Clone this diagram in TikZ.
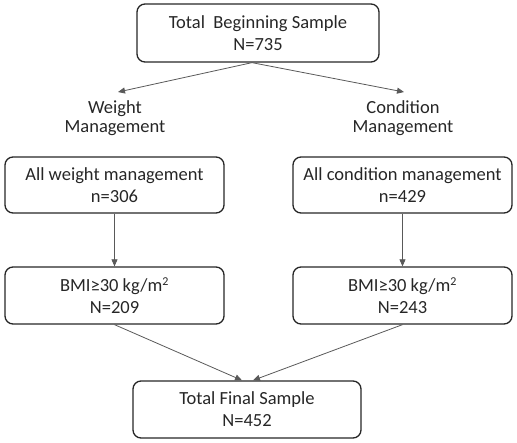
\documentclass[tikz,border=0pt]{standalone}
\usepackage{fontspec}
\setmainfont{Carlito}
\usetikzlibrary{arrows.meta,calc}

\tikzset{
    flowbox/.style={draw=black!85, line width=1.3pt, rounded corners=8pt, align=center,
        minimum width=219pt, minimum height=56pt, inner sep=0pt,
        font=\fontsize{18.5}{22}\selectfont, text=black!85},
    branch/.style={align=center, inner sep=0pt, font=\fontsize{18.5}{19.5}\selectfont, text=black!85},
    link/.style={draw=black!65, line width=0.8pt, -{Triangle[length=7pt,width=6pt]}}
}

\begin{document}
\begin{tikzpicture}[x=1pt,y=-1pt]
    \useasboundingbox (0,0) rectangle (517,443);
    \node[flowbox, minimum width=242pt, minimum height=58pt] at (258,33) (TOTAL) {Total~~Beginning Sample\\N=735};
    \node[branch] at (115,118) (WM) {Weight\\Management};
    \node[branch] at (403,118) (CM) {Condition\\Management};
    \node[flowbox] at (114.5,185) (WALL) {All weight management\\n=306};
    \node[flowbox] at (402.5,185) (CALL) {All condition management\\n=429};
    \node[flowbox, minimum height=57pt] at (114.5,295.5) (WBMI) {BMI≥30 kg/m\textsuperscript{\fontsize{12}{12}\selectfont 2}\\N=209};
    \node[flowbox, minimum height=57pt] at (402.5,295.5) (CBMI) {BMI≥30 kg/m\textsuperscript{\fontsize{12}{12}\selectfont 2}\\N=243};
    \node[flowbox, minimum width=228pt, minimum height=57pt] at (247,409.5) (FINAL) {Total Final Sample\\N=452};
    \draw[link] ([xshift=-6pt]TOTAL.south) -- ([xshift=3pt,yshift=8pt]WM.north);
    \draw[link] ([xshift=-6pt]TOTAL.south) -- ([xshift=1pt,yshift=8pt]CM.north);
    \draw[link] (WALL.south) -- (WBMI.north);
    \draw[link] (CALL.south) -- (CBMI.north);
    \draw[link] (WBMI.south) -- ([xshift=-5pt]FINAL.north);
    \draw[link] (CBMI.south) -- ([xshift=6pt]FINAL.north);
\end{tikzpicture}
\end{document}
